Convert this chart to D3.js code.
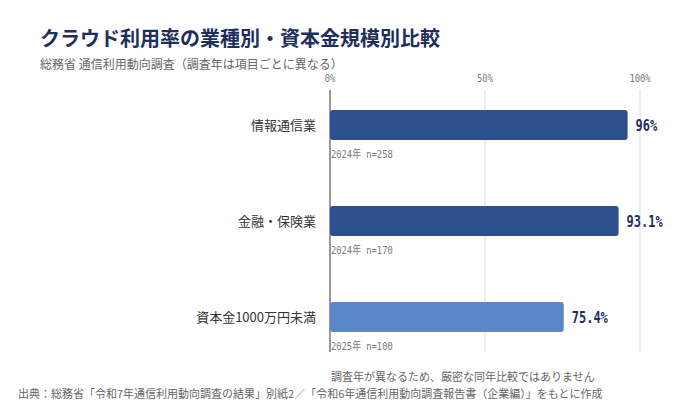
<!DOCTYPE html><html><head><meta charset="utf-8"><script src="https://cdn.jsdelivr.net/npm/d3@7"></script>
<style>body{margin:0;background:#fff}text{font-family:"Noto Sans CJK JP",sans-serif}text.m{font-family:"DejaVu Sans Mono","Noto Sans CJK JP",monospace}</style></head><body><svg width="700" height="420"></svg>
<script>
const categories=["情報通信業","金融・保険業","資本金1000万円未満"];
const values=[96,93.1,75.4];
const notes=["2024年 n=258","2024年 n=170","2025年 n=100"];
const colors=["#2d4f8e","#2d4f8e","#5b86c8"];
const ticks=[0,50,100];
const svg=d3.select("svg");
const x=d3.scaleLinear().domain([0,100]).range([330,640]);
const y=d3.scaleBand().domain(categories).range([77,365]).paddingInner(0.6875).paddingOuter(0.344);
svg.append("text").attr("x",40).attr("y",46).attr("font-size",20).attr("font-weight","bold").attr("fill","#1f2f5c").text("クラウド利用率の業種別・資本金規模別比較");
svg.append("text").attr("x",40).attr("y",69).attr("font-size",12).attr("fill","#666").text("総務省 通信利用動向調査（調査年は項目ごとに異なる）");
svg.selectAll(".g").data(ticks.slice(1)).join("line").attr("x1",x).attr("x2",x).attr("y1",90).attr("y2",352).attr("stroke","#e6e6ee").attr("stroke-width",1.5);
const sx=(px,s)=>`translate(${px},0) scale(${s},1) translate(${-px},0)`;
svg.selectAll(".t").data(ticks).join("text").attr("class","m").attr("x",x).attr("y",82).attr("text-anchor","middle").attr("font-size",11).attr("fill","#777").attr("transform",d=>sx(x(d),0.8)).text(d=>d+"%");
svg.append("line").attr("x1",330).attr("x2",330).attr("y1",90).attr("y2",352).attr("stroke","#777").attr("stroke-width",1.5);
categories.forEach((c,i)=>{
 const yy=y(c),h=y.bandwidth();
 svg.append("rect").attr("x",x(0)).attr("y",yy).attr("width",x(values[i])-x(0)).attr("height",h).attr("rx",3).attr("fill",colors[i]);
 svg.append("text").attr("x",316).attr("y",yy+h/2+5).attr("text-anchor","end").attr("font-size",13).attr("fill","#333").text(c);
 const vx=x(values[i])+8;
 svg.append("text").attr("class","m").attr("x",vx).attr("y",yy+h/2+6).attr("font-size",15).attr("font-weight","bold").attr("fill","#1f2f5c").attr("transform",sx(vx,0.8)).text(values[i]+"%");
 svg.append("text").attr("class","m").attr("x",331).attr("y",yy+h+18).attr("font-size",11).attr("fill","#777").attr("transform",sx(331,0.8)).text(notes[i]);
});
svg.append("text").attr("x",331).attr("y",381).attr("font-size",11).attr("fill","#666").text("調査年が異なるため、厳密な同年比較ではありません");
svg.append("text").attr("x",18).attr("y",398).attr("font-size",11).attr("fill","#666").text("出典：総務省「令和7年通信利用動向調査の結果」別紙2／「令和6年通信利用動向調査報告書（企業編）」をもとに作成");
</script></body></html>
